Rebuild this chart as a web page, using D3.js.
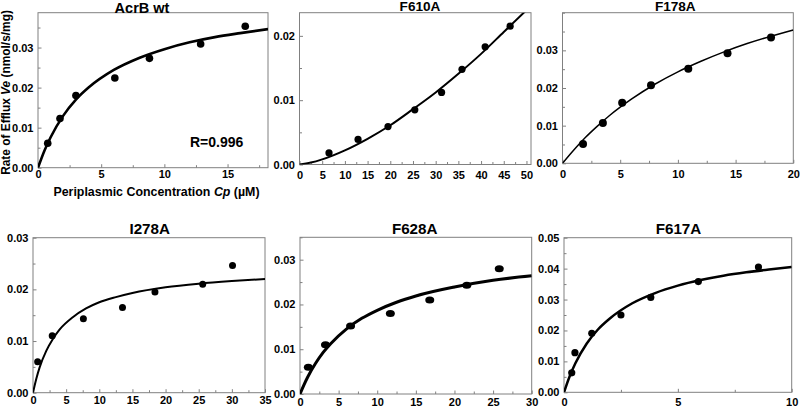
<!DOCTYPE html>
<html><head><meta charset="utf-8">
<script src="https://cdn.jsdelivr.net/npm/d3@7"></script>
<style>
body{margin:0;background:#fff}
svg{display:block}
text{font-family:"Liberation Sans",Arial,Helvetica,sans-serif;font-weight:bold;fill:#000}
.tick text{font-size:11px}
</style>
</head><body><svg id="c" width="800" height="407"></svg>
<script>
// ---------- DATA ----------
const titles = ["AcrB wt", "F610A", "F178A", "I278A", "F628A", "F617A"];

// measured points (concentration Cp in µM, efflux rate Ve in nmol/s/mg)
const wtX    = [0.77, 1.74, 3.0, 6.08, 8.82, 12.87, 16.4];
const wtY    = [0.0061, 0.0123, 0.0180, 0.0224, 0.0273, 0.0309, 0.0353];
const f610X  = [6.5, 12.9, 19.5, 25.4, 31.3, 35.8, 40.9, 46.4];
const f610Y  = [0.0018, 0.0039, 0.0059, 0.0085, 0.0112, 0.0148, 0.0183, 0.0215];
const f178X  = [1.78, 3.5, 5.17, 7.67, 10.9, 14.3, 18.07];
const f178Y  = [0.0051, 0.0107, 0.0161, 0.0207, 0.0251, 0.0292, 0.0334];
const i278X  = [0.7, 2.9, 7.6, 13.5, 18.4, 25.6, 30.1];
const i278Y  = [0.0060, 0.0110, 0.0143, 0.0165, 0.0195, 0.0210, 0.0246];
const f628X  = [1.08, 3.3, 6.55, 11.7, 16.8, 21.6, 25.8];
const f628Y  = [0.0060, 0.0110, 0.0152, 0.0180, 0.0210, 0.0243, 0.0280];
const f617X  = [0.34, 0.48, 1.22, 2.5, 3.81, 5.9, 8.54];
const f617Y  = [0.0063, 0.0128, 0.0191, 0.0250, 0.0307, 0.0358, 0.0405];

// fitted curves
const wtCurveX   = [0, 0.5, 1, 2, 3, 4, 6, 8, 10, 12, 14, 16, 18.2];
const wtCurveY   = [0, 0.0042, 0.0076, 0.0130, 0.0170, 0.0200, 0.0244, 0.0274, 0.0296, 0.0313, 0.0326, 0.0336, 0.0346];
const f610CurveX = [0, 2.5, 5, 10, 15, 20, 25, 30, 35, 40, 45, 50];
const f610CurveY = [0, 0.0003, 0.0008, 0.0022, 0.0040, 0.0061, 0.0086, 0.0112, 0.0141, 0.0172, 0.0206, 0.0240];
const f178CurveX = [0, 1, 2, 3, 4, 5, 6, 8, 10, 12, 14, 16, 18, 20];
const f178CurveY = [0, 0.0036, 0.0069, 0.0098, 0.0125, 0.0149, 0.0171, 0.0210, 0.0243, 0.0271, 0.0296, 0.0318, 0.0337, 0.0354];
const i278CurveX = [0, 0.5, 1, 2, 3, 4, 6, 8, 10, 12.5, 15, 20, 25, 30, 35];
const i278CurveY = [0, 0.0027, 0.0049, 0.0081, 0.0104, 0.0122, 0.0146, 0.0163, 0.0175, 0.0185, 0.0193, 0.0204, 0.0211, 0.0216, 0.0220];
const f628CurveX = [0, 0.5, 1, 2, 3, 4, 6, 8, 10, 12.5, 15, 20, 25, 30];
const f628CurveY = [0, 0.0020, 0.0038, 0.0068, 0.0093, 0.0113, 0.0145, 0.0169, 0.0187, 0.0205, 0.0219, 0.0239, 0.0254, 0.0264];
const f617CurveX = [0, 0.25, 0.5, 1, 1.5, 2, 3, 4, 5, 6, 7, 8, 9, 10];
const f617CurveY = [0, 0.0052, 0.0094, 0.0158, 0.0204, 0.0238, 0.0288, 0.0321, 0.0345, 0.0363, 0.0377, 0.0388, 0.0397, 0.0405];

// axis domains and tick labels
const xMax = [18.2, 51, 20, 35, 30, 10];
const yMax = [0.0387, 0.0236, 0.040, 0.030, 0.035, 0.050];
const xTicks = [[0,5,10,15],[0,5,10,15,20,25,30,35,40,45,50],[0,5,10,15,20],[0,5,10,15,20,25,30,35],[0,5,10,15,20,25,30],[0,5,10]];
const yTicks = [[0,0.01,0.02,0.03],[0,0.01,0.02],[0,0.01,0.02,0.03],[0,0.01,0.02,0.03],[0,0.01,0.02,0.03],[0,0.01,0.02,0.03,0.04,0.05]];

const xAxisTitle = ["Periplasmic Concentration ", "Cp", " (µM)"];
const yAxisTitle = ["Rate of Efflux ", "Ve", " (nmol/s/mg)"];
const fitNote = "R=0.996";

// ---------- LAYOUT ----------
const layout = [
  {l:38,    t:12.7,  r:268,   b:167.7, lb:178.5, tx:142,   ty:12.8,  tfs:14.5, lw:2.6, rx:3.8, ry:3.8},
  {l:299.5, t:12.7,  r:531,   b:164.5, lb:178.8, tx:420,   ty:11,    tfs:13.6, lw:2.0, rx:3.6, ry:3.6},
  {l:562.5, t:12.7,  r:793.3, b:163.3, lb:178.5, tx:675.3, ty:11,    tfs:13.6, lw:1.5, rx:4.0, ry:4.0},
  {l:33,    t:237.7, r:265,   b:392.7, lb:404.5, tx:149.7, ty:234.3, tfs:15.2, lw:2.0, rx:3.5, ry:3.5},
  {l:300,   t:237.3, r:531.7, b:394,   lb:405.5, tx:414.7, ty:234.3, tfs:15.2, lw:3.0, rx:4.5, ry:3.5},
  {l:564,   t:237.7, r:791.7, b:392.3, lb:406,   tx:678.5, ty:234.3, tfs:15.2, lw:2.5, rx:3.6, ry:3.6}
];

const pts = [[wtX,wtY],[f610X,f610Y],[f178X,f178Y],[i278X,i278Y],[f628X,f628Y],[f617X,f617Y]];
const curves = [[wtCurveX,wtCurveY],[f610CurveX,f610CurveY],[f178CurveX,f178CurveY],[i278CurveX,i278CurveY],[f628CurveX,f628CurveY],[f617CurveX,f617CurveY]];

const svg = d3.select("#c");
const frameColor = "#808080";

layout.forEach((L, i) => {
  const x = d3.scaleLinear().domain([0, xMax[i]]).range([L.l, L.r]);
  const y = d3.scaleLinear().domain([0, yMax[i]]).range([L.b, L.t]);
  const g = svg.append("g");

  g.append("clipPath").attr("id", "clip" + i)
    .append("rect").attr("x", L.l).attr("y", L.t).attr("width", L.r - L.l).attr("height", L.b - L.t);

  // minor ticks
  const xMinor = d3.range(0, xMax[i] + 1e-9, 2.5).filter(v => xTicks[i].indexOf(v) < 0);
  const yMinor = d3.range(0, yMax[i] + 1e-9, 0.005).filter(v => !yTicks[i].some(t => Math.abs(t - v) < 1e-9));
  g.append("g").attr("transform", `translate(0,${L.b})`)
    .call(d3.axisBottom(x).tickValues(xMinor).tickSize(-2.5).tickFormat(""))
    .call(a => a.select(".domain").remove())
    .selectAll("line").attr("stroke", frameColor);
  g.append("g").attr("transform", `translate(${L.l},0)`)
    .call(d3.axisLeft(y).tickValues(yMinor).tickSize(-2.5).tickFormat(""))
    .call(a => a.select(".domain").remove())
    .selectAll("line").attr("stroke", frameColor);

  // major ticks with labels
  const xa = g.append("g").attr("transform", `translate(0,${L.b})`)
    .call(d3.axisBottom(x).tickValues(xTicks[i]).tickSize(-3.5).tickFormat(d3.format("d")))
    .call(a => a.select(".domain").remove());
  xa.selectAll("line").attr("stroke", frameColor);
  xa.selectAll("text").attr("y", L.lb - L.b).attr("dy", null);

  const ya = g.append("g").attr("transform", `translate(${L.l},0)`)
    .call(d3.axisLeft(y).tickValues(yTicks[i]).tickSize(-3.5).tickPadding(4.5).tickFormat(d3.format(".2f")))
    .call(a => a.select(".domain").remove());
  ya.selectAll("line").attr("stroke", frameColor);

  // frame
  g.append("rect").attr("x", L.l).attr("y", L.t).attr("width", L.r - L.l).attr("height", L.b - L.t)
    .attr("fill", "none").attr("stroke", frameColor).attr("stroke-width", 1);

  // curve
  const cx = curves[i][0], cy = curves[i][1];
  g.append("path")
    .datum(cx.map((v, k) => [v, cy[k]]))
    .attr("clip-path", `url(#clip${i})`)
    .attr("fill", "none").attr("stroke", "#000").attr("stroke-width", L.lw)
    .attr("d", d3.line().x(d => x(d[0])).y(d => y(d[1])).curve(d3.curveMonotoneX));

  // points
  const px = pts[i][0], py = pts[i][1];
  g.selectAll("ellipse.p").data(px.map((v, k) => [v, py[k]])).enter()
    .append("ellipse").attr("class", "p")
    .attr("cx", d => x(d[0])).attr("cy", d => y(d[1]))
    .attr("rx", L.rx).attr("ry", L.ry).attr("fill", "#000");

  // title
  g.append("text").attr("x", L.tx).attr("y", L.ty).attr("text-anchor", "middle")
    .style("font-size", L.tfs + "px").text(titles[i]);
});

// axis titles for the first panel
const xt = svg.append("text").attr("x", 156.5).attr("y", 195.5).attr("text-anchor", "middle").style("font-size", "12.4px");
xt.append("tspan").text(xAxisTitle[0]);
xt.append("tspan").style("font-style", "italic").text(xAxisTitle[1]);
xt.append("tspan").text(xAxisTitle[2]);

const yt = svg.append("text").attr("transform", "translate(10,92.5) rotate(-90)").attr("text-anchor", "middle").style("font-size", "11.9px");
yt.append("tspan").text(yAxisTitle[0]);
yt.append("tspan").style("font-style", "italic").text(yAxisTitle[1]);
yt.append("tspan").text(yAxisTitle[2]);

svg.append("text").attr("x", 190).attr("y", 146.5).style("font-size", "14px").text(fitNote);
</script>
</body></html>
